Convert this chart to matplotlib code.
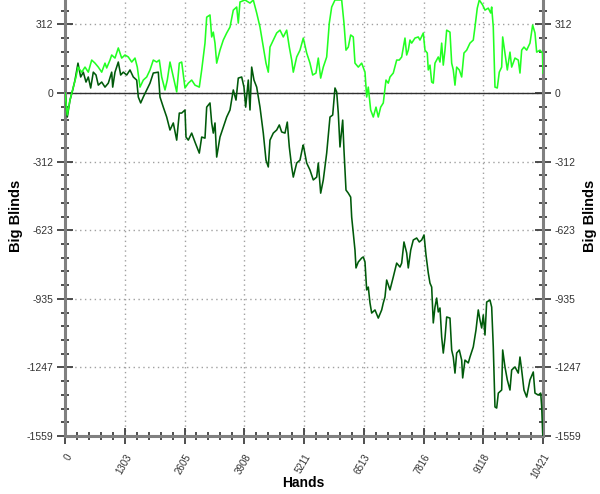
import matplotlib
matplotlib.use("Agg")
import matplotlib.pyplot as plt
from matplotlib.ticker import FixedLocator, MultipleLocator

# ---- data (hands, big blinds) ----
hands_dark = [0, 50, 109, 168, 218, 283, 342, 399, 458, 508, 560, 617, 676, 726, 800, 872, 944, 1018, 1040, 1090,
              1162, 1214, 1271, 1345, 1417, 1489, 1563, 1598, 1650, 1707, 1781, 1853, 1925, 2034, 2071, 2143, 2217,
              2289, 2361, 2435, 2492, 2544, 2616, 2638, 2688, 2762, 2834, 2928, 2980, 3052, 3089, 3161, 3198, 3233,
              3270, 3307, 3379, 3451, 3525, 3597, 3669, 3728, 3778, 3852, 3902, 3939, 3996, 4033, 4070, 4120, 4179,
              4251, 4323, 4382, 4432, 4469, 4541, 4615, 4672, 4724, 4796, 4846, 4890, 4942, 4977, 5051, 5123, 5182,
              5195, 5269, 5341, 5413, 5487, 5522, 5574, 5631, 5705, 5777, 5836, 5886, 5923, 5958, 5995, 6054, 6082,
              6126, 6176, 6228, 6250, 6322, 6344, 6394, 6468, 6503, 6540, 6577, 6612, 6649, 6686, 6758, 6830, 6904,
              6939, 6976, 7013, 7085, 7157, 7231, 7303, 7340, 7390, 7449, 7484, 7537, 7593, 7667, 7724, 7776, 7827,
              7870, 7920, 7957, 7994, 8029, 8066, 8103, 8138, 8175, 8212, 8247, 8284, 8321, 8393, 8430, 8465, 8502,
              8539, 8596, 8648, 8670, 8720, 8792, 8829, 8901, 8960, 9010, 9047, 9084, 9119, 9156, 9193, 9265, 9302,
              9337, 9374, 9411, 9447, 9520, 9542, 9592, 9643, 9701, 9738, 9810, 9882, 9919, 9956, 10006, 10065,
              10137, 10209, 10246, 10318, 10371, 10393, 10414, 10421]
bb_dark = [0, -109, -32, 14, 59, 136, 73, 95, 50, 73, 23, 95, 82, 36, 50, 27, 45, 95, 27, 95,
           141, 82, 95, 82, 105, 73, 59, -18, -45, -18, 14, 45, 91, 95, -18, -64, -109,
           -168, -136, -214, -91, -91, -77, -200, -214, -182, -223, -273, -200, -205, -64, -45, -136, -182,
           -136, -291, -200, -155, -109, -77, 14, -32, 68, 73, 27, -64, 59, -77, 118, 59, 27,
           -64, -182, -305, -336, -214, -182, -168, -145, -177, -182, -132, -245, -336, -382, -318, -305, -245,
           -236, -318, -350, -395, -382, -318, -455, -395, -273, -109, -100, 23, 5, -91, -245, -123, -259,
           -441, -455, -473, -564, -714, -795, -768, -750, -745, -768, -895, -882, -954, -1000, -986, -1023, -986,
           -954, -927, -850, -895, -836, -773, -791, -773, -677, -727, -795, -714, -668, -659, -677, -668, -645,
           -736, -818, -864, -882, -1045, -973, -932, -995, -977, -1109, -1182, -1114, -1018, -1023, -1168, -1200, -1273,
           -1182, -1168, -1214, -1295, -1214, -1227, -1200, -1154, -1077, -986, -1032, -1068, -1009, -1100, -950, -941, -973,
           -1154, -1427, -1432, -1364, -1350, -1168, -1245, -1304, -1350, -1259, -1245, -1273, -1200, -1259, -1350, -1382,
           -1304, -1268, -1364, -1373, -1364, -1427, -1545, -1559]

hands_light = [0, 50, 109, 181, 240, 283, 364, 436, 508, 582, 654, 726, 800, 872, 909, 981, 1018, 1090, 1162, 1236,
               1308, 1380, 1454, 1526, 1576, 1635, 1707, 1781, 1853, 1925, 1999, 2056, 2108, 2180, 2230, 2289, 2361,
               2435, 2492, 2544, 2616, 2688, 2762, 2834, 2928, 2980, 3052, 3089, 3161, 3198, 3233, 3270, 3307, 3379,
               3451, 3525, 3597, 3669, 3743, 3778, 3815, 3924, 4033, 4105, 4179, 4251, 4323, 4382, 4432, 4469, 4541,
               4615, 4687, 4759, 4833, 4890, 4942, 4977, 5051, 5123, 5195, 5269, 5341, 5400, 5472, 5522, 5574, 5631,
               5705, 5762, 5814, 5886, 5958, 6032, 6082, 6126, 6176, 6228, 6285, 6322, 6394, 6468, 6540, 6577, 6612,
               6664, 6721, 6780, 6830, 6882, 6939, 6998, 7048, 7085, 7157, 7231, 7288, 7340, 7412, 7449, 7484, 7521,
               7558, 7630, 7702, 7739, 7811, 7848, 7898, 7920, 7957, 7994, 8029, 8066, 8138, 8175, 8212, 8247, 8284,
               8321, 8393, 8430, 8465, 8502, 8539, 8596, 8648, 8698, 8757, 8829, 8901, 8938, 8988, 9032, 9106, 9156,
               9228, 9280, 9302, 9337, 9374, 9424, 9468, 9520, 9542, 9592, 9643, 9701, 9738, 9810, 9882, 9919, 9956,
               10006, 10065, 10137, 10195, 10246, 10283, 10355, 10410, 10421]
bb_light = [0, -100, -32, 27, 73, 118, 95, 118, 95, 150, 136, 118, 95, 136, 114, 150, 173, 159, 205, 159,
            173, 164, 141, 159, 118, 27, 59, 73, 105, 150, 141, 150, 73, 14, 59, 141, 73,
            5, 136, 141, 23, 45, 59, 36, 27, 105, 227, 345, 355, 255, 277, 227, 136, 195,
            241, 273, 300, 377, 391, 318, 414, 423, 409, 423, 364, 300, 209, 136, 95, 209, 241,
            273, 286, 255, 286, 209, 150, 95, 164, 195, 250, 182, 136, 82, 91, 159, 68, 118,
            164, 318, 391, 423, 423, 423, 318, 195, 209, 264, 255, 136, 118, 136, 95, -18, 27,
            -77, -109, -64, -109, -64, -45, 59, 45, 73, 91, 150, 150, 164, 250, 173, 195, 241,
            227, 250, 255, 241, 273, 195, 182, 105, 127, 50, 45, 136, 164, 141, 227, 127, 195,
            286, 277, 136, 105, 36, 118, 105, 73, 182, 195, 227, 241, 300, 386, 423, 400, 377,
            386, 364, 391, 300, 27, 23, 95, 118, 255, 182, 105, 186, 118, 159, 150, 91, 195,
            209, 195, 227, 309, 273, 186, 195, 182, 91]

x_ticks = [0, 1302.6, 2605.25, 3907.9, 5210.5, 6513.1, 7815.75, 9118.4, 10421]
x_labels = ["0", "1303", "2605", "3908", "5211", "6513", "7816", "9118", "10421"]
y_ticks = [-1559, -1247.2, -935.4, -623.6, -311.8, 0, 311.8]
y_labels = ["-1559", "-1247", "-935", "-623", "-312", "0", "312"]

plt.rcParams['font.family'] = ['Liberation Sans', 'DejaVu Sans']

fig = plt.figure(figsize=(6.0, 4.94), dpi=100)
ax = fig.add_axes([65 / 600, 1 - 436 / 494, (543 - 65) / 600, 436 / 494])

ax.plot(hands_dark, bb_dark, color="#005a0a", lw=1.15, zorder=3)
ax.plot(hands_light, bb_light, color="#22ff22", lw=1.15, zorder=4)
ax.axhline(0, color="#303030", lw=1.0, zorder=2)

ax.set_xlim(0, 10421)
ax.set_ylim(-1559, 423)

ax.xaxis.set_major_locator(FixedLocator(x_ticks))
ax.xaxis.set_minor_locator(MultipleLocator(10421 / 40))
ax.yaxis.set_major_locator(FixedLocator(y_ticks))
ax.yaxis.set_minor_locator(MultipleLocator(311.8 / 5))
ax.set_xticklabels(x_labels, rotation=60, ha="right", va="top", rotation_mode="anchor", fontsize=7, color="#333333")
ax.set_yticklabels(y_labels, fontsize=7.5, color="#333333")

ax.grid(True, which="major", color="#a0a0a0", linestyle=(0, (1, 2.5)), lw=1.0, zorder=1)

for s in ["left", "right", "bottom"]:
    ax.spines[s].set_color("#808080")
    ax.spines[s].set_linewidth(2.2)
ax.spines["top"].set_visible(False)

ax.tick_params(axis="both", which="major", direction="inout", length=11, width=1.3, color="#404040",
               left=True, right=True, labelleft=True, labelright=True, bottom=True, top=False)
ax.tick_params(axis="both", which="minor", direction="inout", length=6, width=1.3, color="#404040",
               left=True, right=True, bottom=True, top=False)
ax.tick_params(axis="y", which="major", pad=3)
ax.tick_params(axis="x", which="major", pad=6)

fig.text(303 / 600, 1 - 483 / 494, "Hands", ha="center", va="center", fontsize=10, fontweight="bold")
fig.text(16 / 600, 1 - 216 / 494, "Big Blinds", ha="center", va="center", rotation=90, fontsize=10.5, fontweight="bold")
fig.text(590 / 600, 1 - 216 / 494, "Big Blinds", ha="center", va="center", rotation=90, fontsize=10.5, fontweight="bold")

fig.savefig("out.png", dpi=100)
